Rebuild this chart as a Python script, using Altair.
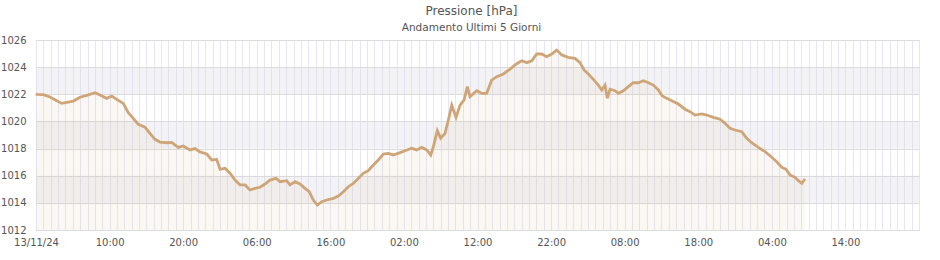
import json
import altair as alt
import pandas as pd

# hours since 13/11/24 00:00
hours = [0.00, 0.10, 0.99, 1.90, 2.58, 3.49, 4.17, 5.07, 5.98, 6.89, 8.02, 8.70, 9.61, 10.29, 10.97,
         11.86, 12.54, 13.22, 13.90, 14.82, 15.49, 16.17, 16.85, 17.76, 18.44, 19.34, 20.02, 20.93,
         21.61, 22.29, 23.20, 23.88, 24.56, 25.01, 25.69, 26.37, 27.05, 27.73, 28.41, 29.08, 29.76,
         30.44, 31.12, 31.80, 32.62, 33.16, 34.07, 34.52, 35.20, 35.88, 36.56, 37.14, 37.69, 38.23,
         38.83, 39.51, 40.41, 41.09, 41.77, 42.44, 43.12, 43.59, 44.48, 45.16, 45.84, 46.52, 47.20,
         47.88, 48.56, 49.47, 50.15, 51.06, 51.74, 52.42, 53.10, 53.64, 54.00, 54.54, 55.00, 55.59,
         56.04, 56.50, 57.08, 57.63, 58.17, 58.62, 58.98, 59.89, 60.57, 61.25, 61.93, 62.61, 63.51,
         64.42, 65.33, 66.01, 66.69, 67.37, 68.05, 68.73, 69.41, 70.09, 70.77, 71.45, 72.34, 73.25,
         73.93, 74.48, 75.06, 75.74, 76.42, 76.88, 77.33, 77.64, 78.01, 78.69, 79.14, 79.82, 80.50,
         81.18, 81.86, 82.54, 83.22, 83.90, 84.58, 85.08, 85.72, 86.40, 87.30, 88.20, 88.88, 89.56,
         90.47, 91.15, 92.05, 92.96, 93.64, 94.32, 95.00, 95.91, 96.59, 97.27, 98.17, 99.08, 99.99,
         100.67, 101.35, 101.93, 102.48, 103.16, 103.61, 104.07, 104.51]

pressure = [1022.05, 1022.0, 1021.97, 1021.8, 1021.6, 1021.33, 1021.4, 1021.5, 1021.78, 1021.92,
            1022.12, 1021.95, 1021.7, 1021.87, 1021.63, 1021.33, 1020.64, 1020.23, 1019.79, 1019.57,
            1019.12, 1018.68, 1018.48, 1018.43, 1018.46, 1018.09, 1018.19, 1017.9, 1018.0, 1017.75,
            1017.6, 1017.16, 1017.2, 1016.47, 1016.55, 1016.18, 1015.68, 1015.32, 1015.32, 1014.95,
            1015.07, 1015.15, 1015.39, 1015.68, 1015.81, 1015.56, 1015.63, 1015.32, 1015.56, 1015.39,
            1015.07, 1014.82, 1014.21, 1013.84, 1014.09, 1014.21, 1014.33, 1014.5, 1014.82, 1015.19,
            1015.44, 1015.68, 1016.18, 1016.37, 1016.79, 1017.16, 1017.6, 1017.65, 1017.53, 1017.7,
            1017.84, 1018.02, 1017.9, 1018.09, 1017.9, 1017.53, 1018.14, 1019.32, 1018.76, 1019.12,
            1020.1, 1021.2, 1020.3, 1021.2, 1021.58, 1022.56, 1021.82, 1022.26, 1022.07, 1022.07,
            1023.05, 1023.3, 1023.5, 1023.85, 1024.25, 1024.47, 1024.33, 1024.47, 1024.97, 1024.97,
            1024.77, 1024.97, 1025.26, 1024.9, 1024.72, 1024.65, 1024.33, 1023.79, 1023.5, 1023.1,
            1022.68, 1022.32, 1022.68, 1021.7, 1022.37, 1022.26, 1022.07, 1022.26, 1022.56, 1022.85,
            1022.85, 1023.0, 1022.85, 1022.68, 1022.32, 1021.9, 1021.7, 1021.53, 1021.28, 1020.9,
            1020.72, 1020.47, 1020.55, 1020.47, 1020.3, 1020.16, 1019.86, 1019.49, 1019.37, 1019.24,
            1018.76, 1018.43, 1018.09, 1017.77, 1017.36, 1017.03, 1016.62, 1016.47, 1016.05, 1015.88,
            1015.63, 1015.44, 1015.76]

x_tick_labels = ["13/11/24", "10:00", "20:00", "06:00", "16:00", "02:00",
                 "12:00", "22:00", "08:00", "18:00", "04:00", "14:00"]
y_ticks = [1012, 1014, 1016, 1018, 1020, 1022, 1024, 1026]
band_lo = [1014, 1018, 1022]
band_hi = [1016, 1020, 1024]

df = pd.DataFrame({"h": hours, "p": pressure})
bands = pd.DataFrame({"lo": band_lo, "hi": band_hi})

label_arr = json.dumps(x_tick_labels)
x_axis = alt.Axis(
    values=list(range(0, 121)),
    grid=True, gridColor="#e6e6f6", gridWidth=1,
    ticks=False, domain=False, title=None,
    labelExpr=f"(datum.value % 10 == 0 && datum.value < 120) ? {label_arr}[datum.value/10] : ''",
    labelOverlap=False, labelFlush=False,
    labelFont="DejaVu Sans", labelFontSize=10, labelColor="#555555", labelPadding=7,
)
y_axis = alt.Axis(
    values=y_ticks, grid=True, gridColor="#dcdcdc", gridWidth=1, format="d",
    ticks=False, domain=False, title=None,
    labelFont="DejaVu Sans", labelFontSize=10, labelColor="#555555", labelPadding=10,
)
xs = alt.Scale(domain=[0, 120], nice=False, zero=False)
ys = alt.Scale(domain=[1012, 1026], nice=False, zero=False)

band_layer = alt.Chart(bands).mark_rect(fill="#d8d8e0", opacity=0.3).encode(
    x=alt.value(0), x2=alt.value("width"),
    y=alt.Y("lo:Q", scale=ys, axis=y_axis), y2="hi:Q",
)

area = alt.Chart(df).mark_area(color="#cfa577", opacity=0.08).encode(
    x=alt.X("h:Q", scale=xs, axis=x_axis),
    y=alt.Y("p:Q", scale=ys, axis=y_axis),
    y2=alt.datum(1012),
)

line = alt.Chart(df).mark_line(color="#cfa577", strokeWidth=2.8).encode(
    x=alt.X("h:Q", scale=xs, axis=x_axis),
    y=alt.Y("p:Q", scale=ys, axis=y_axis),
)

chart = alt.layer(band_layer, area, line).properties(
    width=883, height=190,
    title=alt.TitleParams(
        text="Pressione [hPa]", subtitle="Andamento Ultimi 5 Giorni",
        font="DejaVu Sans", fontSize=12, fontWeight="normal", color="#555555",
        subtitleFont="DejaVu Sans", subtitleFontSize=10.5, subtitleColor="#555555",
        subtitlePadding=5, offset=9, anchor="middle", dx=-6, dy=8,
    ),
    autosize=alt.AutoSizeParams(type="none"),
    padding={"left": 36, "top": 40, "right": 21, "bottom": 30},
).configure_view(stroke="#cccccc", strokeWidth=1).configure(background="white")

chart.save("out.html", embed_options={"renderer": "svg", "actions": False})
